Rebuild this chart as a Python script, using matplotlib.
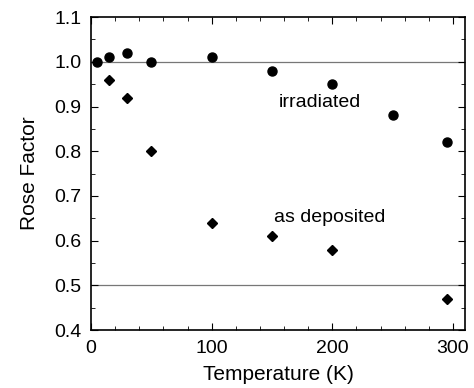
import numpy as np
import matplotlib.pyplot as plt
from matplotlib.ticker import MultipleLocator

plt.rcParams['font.family'] = ['Liberation Sans', 'DejaVu Sans']

# irradiated samples
temp_irr = [5, 15, 30, 50, 100, 150, 200, 250, 295]
rose_irr = [1.00, 1.01, 1.02, 1.00, 1.01, 0.98, 0.95, 0.88, 0.82]

# as deposited samples
temp_dep = [15, 30, 50, 100, 150, 200, 295]
rose_dep = [0.96, 0.92, 0.80, 0.64, 0.61, 0.58, 0.47]

ref_levels = [1.0, 0.5]

fig = plt.figure(figsize=(4.74, 3.88), dpi=100)
ax = fig.add_axes([0.192, 0.149, 0.789, 0.807])

for lvl in ref_levels:
    ax.axhline(lvl, color='#777777', lw=0.9, zorder=1)

ax.plot(temp_irr, rose_irr, 'o', color='black', ms=6.5, zorder=3)
ax.plot(temp_dep, rose_dep, 'D', color='black', ms=5, zorder=3)

ax.text(190, 0.908, 'irradiated', fontsize=14, ha='center', va='center')
ax.text(198, 0.653, 'as deposited', fontsize=14, ha='center', va='center')

ax.set_xlim(0, 310)
ax.set_ylim(0.4, 1.1)
ax.xaxis.set_major_locator(MultipleLocator(100))
ax.xaxis.set_minor_locator(MultipleLocator(20))
ax.yaxis.set_major_locator(MultipleLocator(0.1))
ax.yaxis.set_minor_locator(MultipleLocator(0.05))
ax.yaxis.set_major_formatter(plt.FormatStrFormatter('%.1f'))
ax.tick_params(which='both', direction='in', top=True, right=True, labelsize=14)
ax.tick_params(which='major', length=5, pad=7)
ax.tick_params(which='minor', length=3)
for s in ax.spines.values():
    s.set_linewidth(1.2)

ax.set_xlabel('Temperature (K)', fontsize=15, labelpad=6)
ax.set_ylabel('Rose Factor', fontsize=15, labelpad=11)

fig.savefig('out.png', dpi=100)
